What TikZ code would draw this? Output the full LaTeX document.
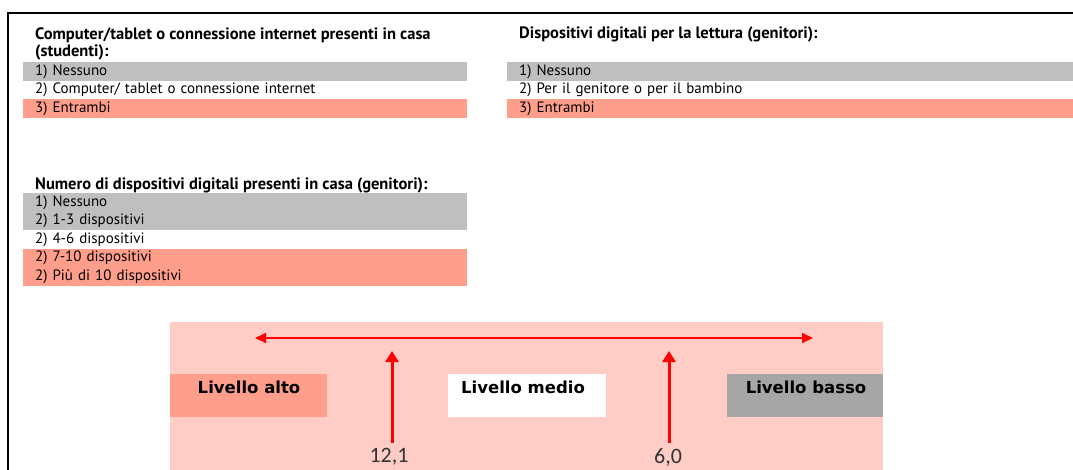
\documentclass[tikz,border=0pt]{standalone}
\usepackage{fontspec}
\setmainfont{PT Sans}
\newfontfamily\calfont{Carlito}
\newfontfamily\levfont{DejaVu Sans}
\usetikzlibrary{arrows.meta,positioning,calc}

\definecolor{bargray}{RGB}{191,191,191}
\definecolor{barred}{RGB}{255,158,138}
\definecolor{panelpink}{RGB}{255,205,197}
\definecolor{boxgray}{RGB}{166,166,166}

\begin{document}
\begin{tikzpicture}[x=1pt,y=-1pt]

      \tikzset{row/.style={anchor=north west, minimum height=18.5pt, inner ysep=0pt, inner xsep=12pt,
                           text width=420pt, align=left, font=\fontsize{15}{18.5}\selectfont},
               head/.style={anchor=west, inner sep=0pt, align=left, font=\fontsize{16.5}{17}\selectfont\bfseries},
               level/.style={anchor=north west, minimum width=157pt, minimum height=43pt, inner sep=0pt,
                             font=\levfont\fontsize{16.5}{20}\selectfont\bfseries},
               value/.style={inner sep=0pt, font=\calfont\fontsize{22}{24}\selectfont, text=black!80},
               redarrow/.style={red, -{Triangle[length=11pt,width=11pt]}}}
      \useasboundingbox (0,0) rectangle (1073,470);
%% Frame
      	\draw[line width=2pt] (8,470) -- (8,13) -- (1073,13);
%% Computer/tablet (studenti)
      	\node[head] (h1) at (35,43.5) {Computer/tablet o connessione internet presenti in casa\\(studenti):};
      	\node[row, fill=bargray] (a1) at (23,62) {1) Nessuno};
      	\node[row] (a2) at (23,80.5) {2) Computer/ tablet o connessione internet};
      	\node[row, fill=barred] (a3) at (23,99) {3) Entrambi};
%% Dispositivi per la lettura (genitori)
      	\node[head] (h2) at (519,34.5) {Dispositivi digitali per la lettura (genitori):};
      	\node[row, fill=bargray, text width=542pt] (b1) at (507,62) {1) Nessuno};
      	\node[row, text width=542pt] (b2) at (507,80.5) {2) Per il genitore o per il bambino};
      	\node[row, fill=barred, text width=542pt] (b3) at (507,99) {3) Entrambi};
%% Numero di dispositivi (genitori)
      	\node[head] (h3) at (35,185) {Numero di dispositivi digitali presenti in casa (genitori):};
      	\node[row, fill=bargray, minimum height=37pt] (c1) at (23,193) {1) Nessuno\\2) 1-3 dispositivi};
      	\node[row] (c2) at (23,230) {2) 4-6 dispositivi};
      	\node[row, fill=barred, minimum height=37pt] (c3) at (23,248.5) {2) 7-10 dispositivi\\2) Più di 10 dispositivi};
%% Scale
      	\fill[panelpink] (170,322) rectangle (883,470);
      	\node[level, fill=barred] (alto) at (170,374) {};
      	\node[level, fill=white, minimum width=158pt] (medio) at (448,374) {};
      	\node[level, fill=boxgray, minimum width=156pt] (basso) at (727,374) {};
      	\node[level, anchor=center, minimum width=0pt, minimum height=0pt] at (249,387) {Livello alto};
      	\node[level, anchor=center, minimum width=0pt, minimum height=0pt] at (523,387) {Livello medio};
      	\node[level, anchor=center, minimum width=0pt, minimum height=0pt] at (806,387) {Livello basso};
      	\coordinate (left) at (255,338);
      	\coordinate (right) at (813,338);
      	\node[value] (v1) at (389,457) {12,1};
      	\node[value] (v2) at (668,457) {6,0};
      	\coordinate (t1) at (392,351);
      	\coordinate (t2) at (669,351);
%Arrows
		\draw[redarrow, {Triangle[length=11pt,width=10pt]}-{Triangle[length=11pt,width=10pt]}, line width=2pt] (left) -- (right);
		\draw[redarrow, line width=3pt, -{Triangle[length=11pt,width=13pt]}] ($(v1.north -| t1)+(0,-5)$) -- (t1);
		\draw[redarrow, line width=3pt, -{Triangle[length=11pt,width=13pt]}] ($(v2.north -| t2)+(0,-5)$) -- (t2);

	\end{tikzpicture}
\end{document}
